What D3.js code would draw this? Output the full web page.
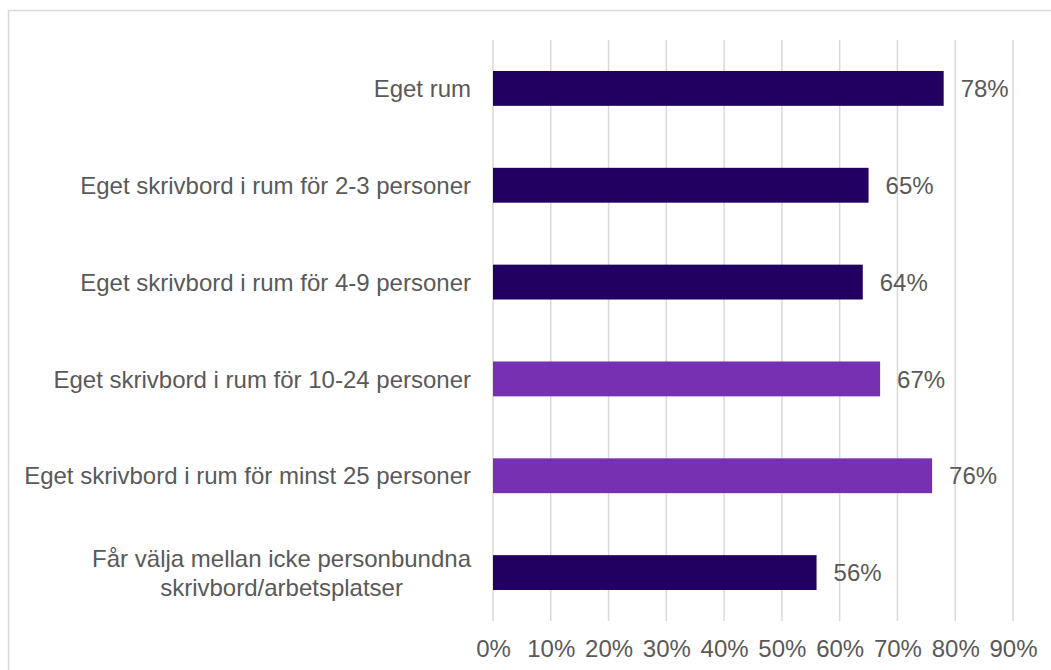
<!DOCTYPE html>
<html>
<head>
<meta charset="utf-8">
<script src="https://cdn.jsdelivr.net/npm/d3@7"></script>
<style>
  html, body { margin: 0; padding: 0; background: #fff; }
  svg { display: block; }
  text { font-family: "Liberation Sans", Arial, sans-serif; fill: #595959; }
</style>
</head>
<body>
<svg id="chart" width="1051" height="670"></svg>
<script>
// Andel per typ av arbetsplats
const categories = [
  ["Eget rum"],
  ["Eget skrivbord i rum för 2-3 personer"],
  ["Eget skrivbord i rum för 4-9 personer"],
  ["Eget skrivbord i rum för 10-24 personer"],
  ["Eget skrivbord i rum för minst 25 personer"],
  ["Får välja mellan icke personbundna", "skrivbord/arbetsplatser"]
];
const values = [0.78, 0.65, 0.64, 0.67, 0.76, 0.56];
const groups = ["a", "a", "a", "b", "b", "a"];
const tickValues = [0, 0.1, 0.2, 0.3, 0.4, 0.5, 0.6, 0.7, 0.8, 0.9];

const colors = { a: "#210062", b: "#7830B2" };
const FS = "24px";

const svg = d3.select("#chart");
const W = 1051, H = 670;
const margin = { left: 493, right: 38, top: 40, bottom: 49 };

// chart frame
svg.append("rect")
  .attr("x", 8.5).attr("y", 10.5)
  .attr("width", W + 10).attr("height", H + 10)
  .attr("fill", "none").attr("stroke", "#d9d9d9").attr("stroke-width", 1.5);

const x = d3.scaleLinear().domain([0, 0.9]).range([margin.left, W - margin.right]);
const y = d3.scaleBand().domain(d3.range(categories.length))
  .range([margin.top, H - margin.bottom]).paddingInner(0.64).paddingOuter(0.32);

// vertical gridlines
svg.append("g").selectAll("line").data(tickValues).join("line")
  .attr("x1", d => x(d)).attr("x2", d => x(d))
  .attr("y1", margin.top).attr("y2", H - margin.bottom)
  .attr("stroke", "#d9d9d9").attr("stroke-width", 1.5);

// x axis labels
const xAxis = d3.axisBottom(x).tickValues(tickValues).tickFormat(d3.format(".0%")).tickSize(0).tickPadding(19);
const gx = svg.append("g").attr("transform", `translate(0,${H - margin.bottom})`).call(xAxis);
gx.select(".domain").remove();
gx.selectAll("text").style("font-size", FS).attr("fill", "#595959")
  .style("font-family", "'Liberation Sans', Arial, sans-serif");

// bars
svg.append("g").selectAll("rect").data(values).join("rect")
  .attr("x", x(0))
  .attr("y", (d, i) => y(i))
  .attr("width", d => x(d) - x(0))
  .attr("height", y.bandwidth())
  .attr("fill", (d, i) => colors[groups[i]]);

// value labels
svg.append("g").selectAll("text").data(values).join("text")
  .attr("x", d => x(d) + 17)
  .attr("y", (d, i) => y(i) + y.bandwidth() / 2)
  .attr("dy", "0.36em")
  .style("font-size", FS)
  .text(d => d3.format(".0%")(d));

// category labels (multi-line labels are centred within their block)
const labelRight = 471;
const lineH = 29;
const lg = svg.append("g");
categories.forEach((lines, i) => {
  const cy = y(i) + y.bandwidth() / 2;
  if (lines.length === 1) {
    lg.append("text")
      .attr("x", labelRight).attr("y", cy).attr("dy", "0.36em")
      .attr("text-anchor", "end").style("font-size", FS)
      .text(lines[0]);
  } else {
    const t = lg.append("text").style("font-size", FS).attr("text-anchor", "middle");
    const tmp = lg.append("text").style("font-size", FS).text(lines[0]);
    const wMax = d3.max(lines, l => { tmp.text(l); return tmp.node().getComputedTextLength(); });
    tmp.remove();
    const cx = labelRight - wMax / 2;
    lines.forEach((l, k) => {
      t.append("tspan").attr("x", cx)
        .attr("y", cy + (k - (lines.length - 1) / 2) * lineH)
        .attr("dy", "0.36em").text(l);
    });
  }
});
</script>
</body>
</html>
